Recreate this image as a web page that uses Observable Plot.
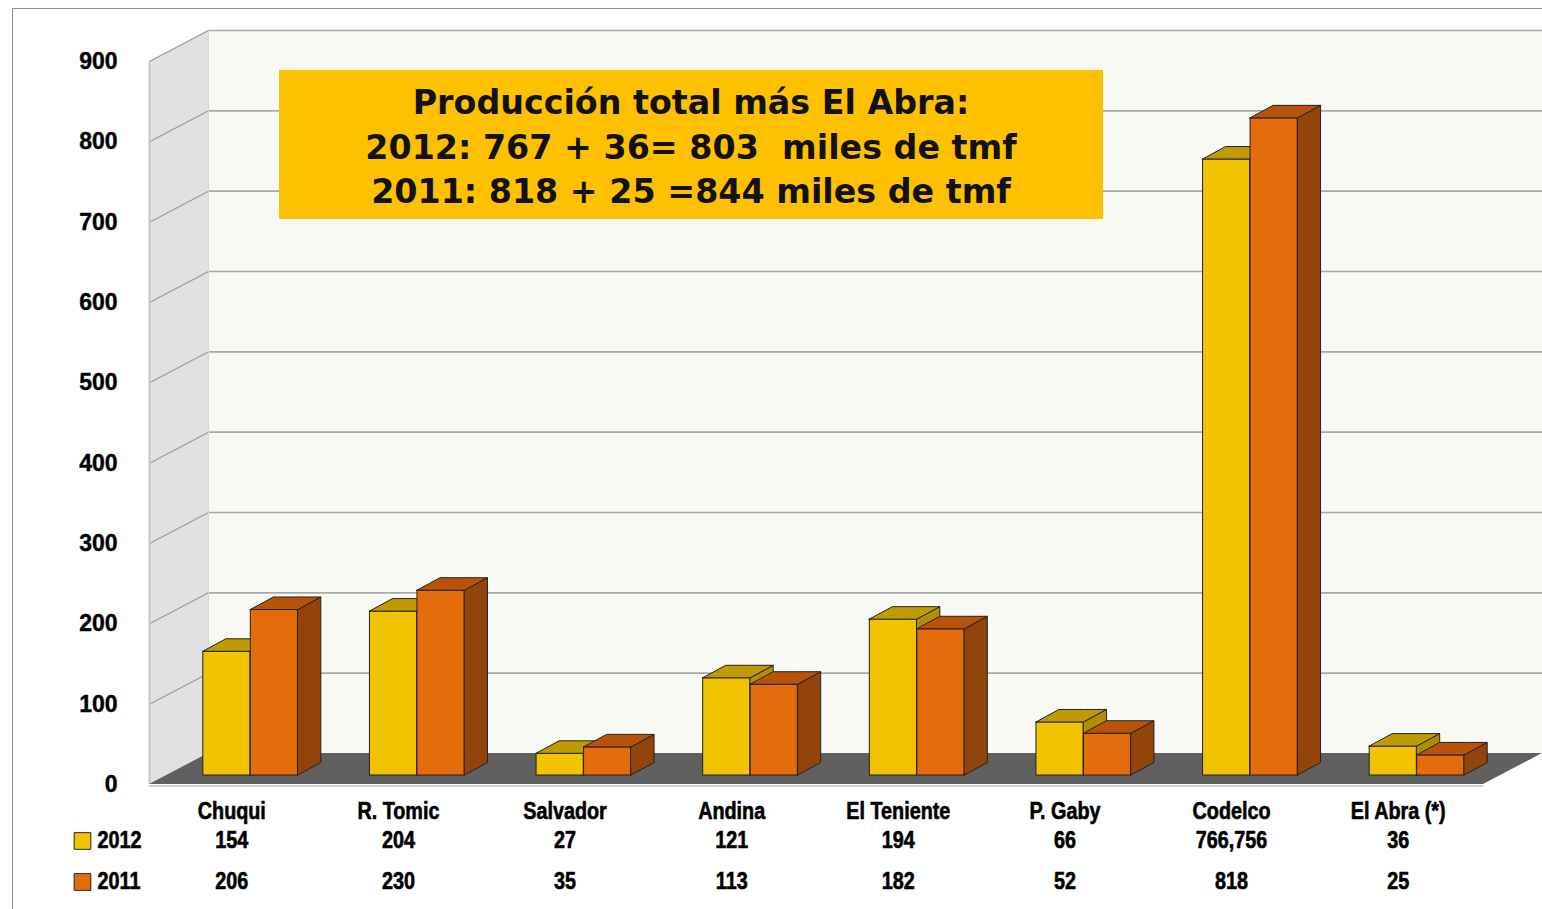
<!DOCTYPE html>
<html><head><meta charset="utf-8">
<script src="https://cdn.jsdelivr.net/npm/d3@7"></script>
<script src="https://cdn.jsdelivr.net/npm/@observablehq/plot@0.6"></script>
<style>
body{margin:0;background:#fff;}
#wrap{position:relative;width:1542px;height:909px;overflow:hidden;background:#fff;}
#border{position:absolute;left:12px;top:8px;width:1600px;height:1000px;border-left:1px solid #8e8e8e;border-top:1px solid #8e8e8e;}
#chart{position:absolute;left:0;top:0;}
#title{position:absolute;left:279px;top:70px;width:824px;height:149px;background:#FFC000;font-family:"DejaVu Sans",Verdana,sans-serif;font-weight:bold;font-size:33.3px;line-height:44.5px;text-align:center;color:#111;white-space:pre;padding-top:11px;box-sizing:border-box;}
</style></head><body>
<div id="wrap"><div id="border"></div><div id="chart"></div><div id="title"></div></div>
<script>
// ---- data ----
const categories = ["Chuqui","R. Tomic","Salvador","Andina","El Teniente","P. Gaby","Codelco","El Abra (*)"];
const values2012 = [154, 204, 27, 121, 194, 66, 766.756, 36];
const values2011 = [206, 230, 35, 113, 182, 52, 818, 25];
const labels2012 = ["154","204","27","121","194","66","766,756","36"];
const labels2011 = ["206","230","35","113","182","52","818","25"];
const seriesNames = ["2012","2011"];
const yTicks = [0,100,200,300,400,500,600,700,800,900];
const titleLines = ["Producción total más El Abra:", "2012: 767 + 36= 803  miles de tmf", "2011: 818 + 25 =844 miles de tmf"];

document.getElementById("title").textContent = titleLines.join("\n");

// ---- layout (pixel sizes converted to scale units) ----
const XR = [167, 1500], YR = [784, 61];
const PXX = (XR[1]-XR[0]) / categories.length;
const PXY = (YR[0]-YR[1]) / 900;
const ux = p => p / PXX, uy = p => p / PXY;
const xL = ux(149 - XR[0]);           // front-left edge of the frame
const xRf = ux(1483 - XR[0]);         // front-right edge of the floor
const WX = ux(59), WY = uy(31);       // wall depth
const barW = ux(47.5), DX = ux(23), DY = uy(12.5), BASE = uy(9);
const yMax = yTicks[yTicks.length-1];

const styles = [
  {front:"#F2C400", top:"#BF9A00", side:"#B08E00"},
  {front:"#E46C0A", top:"#B9530A", side:"#93440A"}
];
const barStroke = "#222";

const seriesVals = [values2012, values2011];
const fronts = [], tops = [], sides = [];
seriesVals.forEach((vals, s) => {
  const f = [], t = [], sd = [];
  vals.forEach((v, i) => {
    const x0 = i + 0.5 - barW + s*barW, x1 = x0 + barW;
    const b = BASE, top = BASE + v;
    f.push({x1: x0, x2: x1, y1: b, y2: top});
    const id = seriesNames[s] + categories[i];
    t.push({id, x: x0, y1: top, y2: top});
    t.push({id, x: x0+DX, y1: top, y2: top+DY});
    t.push({id, x: x1, y1: top, y2: top+DY});
    t.push({id, x: x1+DX, y1: top+DY, y2: top+DY});
    sd.push({id, x: x1, y1: b, y2: top});
    sd.push({id, x: x1+DX, y1: b+DY, y2: top+DY});
  });
  fronts.push(f); tops.push(t); sides.push(sd);
});

const leftWall = [{x: xL, y1: 0, y2: yMax}, {x: xL+WX, y1: WY, y2: yMax+WY}];
const floor = [
  {x: xL, y1: 0, y2: 0}, {x: xL+WX, y1: 0, y2: WY},
  {x: xRf, y1: 0, y2: WY}, {x: xRf+WX, y1: WY, y2: WY}
];

const tableFont = "'Liberation Sans',Arial,sans-serif";
const tableOpts = {fontSize: 23, fontWeight: "bold", fontFamily: tableFont, fill: "#000", stroke: "#000", strokeWidth: 0.6};
const catIdx = categories.map((c, i) => i);

const barMarks = [];
[0,1].forEach(s => {
  barMarks.push(Plot.rect(fronts[s], {x1:"x1", x2:"x2", y1:"y1", y2:"y2", fill: styles[s].front, stroke: barStroke, strokeWidth: 1}));
  barMarks.push(Plot.areaY(sides[s], {x:"x", y1:"y1", y2:"y2", z:"id", fill: styles[s].side, stroke: barStroke, strokeWidth: 1, strokeLinejoin:"round"}));
  barMarks.push(Plot.areaY(tops[s], {x:"x", y1:"y1", y2:"y2", z:"id", fill: styles[s].top, stroke: barStroke, strokeWidth: 1, strokeLinejoin:"round"}));
});

const rowDy = [56, 97];
const legendMarks = [];
[0,1].forEach(s => {
  legendMarks.push(Plot.dot([s], {x: xL, y: 0, dx: -67, dy: rowDy[s] + 0.5, symbol: "square", r: 9.4,
    fill: styles[s].front, stroke: barStroke, strokeWidth: 1}));
  legendMarks.push(Plot.text([s], {x: xL, y: 0, dx: -52, dy: rowDy[s], text: d => seriesNames[d], textAnchor: "start", ...tableOpts}));
});

const chart = Plot.plot({
  width: 1542, height: 909,
  margin: 0,
  style: {background: "transparent", overflow: "visible"},
  x: {type: "linear", domain: [0, categories.length], range: XR, axis: null},
  y: {type: "linear", domain: [0, yMax], range: YR, axis: null},
  marks: [
    Plot.rect([0], {x1: xL+WX, x2: xRf+WX, y1: WY, y2: yMax+WY, fill: "#f8f8f5"}),
    Plot.areaY(leftWall, {x:"x", y1:"y1", y2:"y2", fill: "#e1e1e1"}),
    Plot.ruleY(yTicks.filter(v => v > 0), {y: d => d + WY, x1: xL+WX, x2: xRf+WX, stroke: "#a8a8a8", strokeWidth: 1.6}),
    Plot.link(yTicks.filter(v => v > 0), {x1: xL, y1: d => d, x2: xL+WX, y2: d => d + WY, stroke: "#9a9a9a", strokeWidth: 1.2}),
    Plot.ruleX([xL], {y1: 0, y2: yMax, stroke: "#c4c4c4", strokeWidth: 2}),
    Plot.ruleX([xL+WX], {y1: WY, y2: yMax+WY, stroke: "#d8d8d8", strokeWidth: 1}),
    Plot.ruleY([0], {x1: xL, x2: xRf, dy: 1.5, stroke: "#d0d0d0", strokeWidth: 2}),
    Plot.areaY(floor, {x:"x", y1:"y1", y2:"y2", fill: "#606060"}),
    ...barMarks,
    // y tick labels
    Plot.text(yTicks, {x: xL, y: d => d, text: d => String(d), dx: -32, textAnchor: "end",
      fontSize: 23, fontWeight: "bold", fontFamily: "'Liberation Sans',Arial,sans-serif", fill: "#000", stroke: "#000", strokeWidth: 0.4}),
    // data table
    Plot.text(catIdx, {x: i => i + 0.5, y: 0, text: i => categories[i], dx: -19, dy: 27, textAnchor: "middle", ...tableOpts}),
    Plot.text(catIdx, {x: i => i + 0.5, y: 0, text: i => labels2012[i], dx: -19, dy: rowDy[0], textAnchor: "middle", ...tableOpts}),
    Plot.text(catIdx, {x: i => i + 0.5, y: 0, text: i => labels2011[i], dx: -19, dy: rowDy[1], textAnchor: "middle", ...tableOpts}),
    ...legendMarks
  ]
});
document.getElementById("chart").appendChild(chart);

// condense the data-table lettering horizontally (narrow face look), keeping each anchor in place
const condense = 0.86;
d3.select(chart).selectAll('g[aria-label="text"]').each(function() {
  const g = this;
  if (g.getAttribute("font-size") !== "23" || g.getAttribute("text-anchor") === "end") return;
  d3.select(g).selectAll("text").each(function() {
    const x = +this.getAttribute("x") || 0, y = +this.getAttribute("y") || 0;
    const tr = this.getAttribute("transform") || "";
    this.setAttribute("transform", `${tr} translate(${x},${y}) scale(${condense},1) translate(${-x},${-y})`);
  });
});
</script>
</body></html>
